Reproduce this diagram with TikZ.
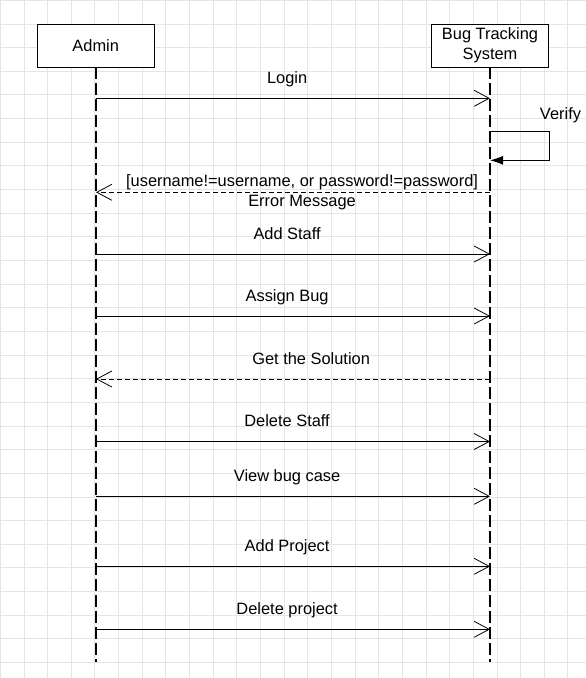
\documentclass[tikz,border=0pt]{standalone}
\usepackage{fontspec}
\setmainfont{Liberation Sans}
\usetikzlibrary{arrows.meta}
\tikzstyle{actor box}=[
        draw = black,
        line width = 1pt,
        fill = white,
        minimum width = 117pt,
        minimum height = 43pt,
        align = center,
        font = \fontsize{16.4}{20}\selectfont
    ]
\tikzstyle{life line}=[
        line width = 1.1pt,
        dash pattern = on 12pt off 4pt
    ]
\tikzstyle{call}=[
        line width = 1pt,
        -{Straight Barb[length=15pt,width=16pt,line width=0.8pt]}
    ]
\tikzstyle{reply}=[
        call,
        dash pattern = on 5pt off 3pt
    ]
\tikzstyle{self call}=[
        line width = 1pt,
        -{Latex[length=13pt,width=9pt]}
    ]
\tikzstyle{msg}=[
        inner sep = 0pt,
        anchor = base,
        font = \fontsize{16.4}{19}\selectfont
    ]

\begin{document}
\begin{tikzpicture}[x=1pt, y=-1pt]
        \useasboundingbox (0,0) rectangle (586,678);
        \foreach \k in {-1,...,23}
            \draw[gray!20, line width=1pt] ({24+\k*23.65},0) -- ({24+\k*23.65},678);
        \foreach \k in {-1,...,27}
            \draw[gray!20, line width=1pt] (0,{24+\k*23.65}) -- (586,{24+\k*23.65});

        \node[actor box] (admin) at (95.7,45.7) {Admin};
        \node[actor box] (bts) at (490,45.7) {Bug Tracking\\System};
        \coordinate (adminEnd) at (96,662);
        \coordinate (btsEnd) at (490,662);
        \draw[life line] (96,67.2) -- (adminEnd);
        \draw[life line] (490,67.2) -- (btsEnd);

        \coordinate (a1) at (96,98.3);   \coordinate (b1) at (490,98.3);
        \coordinate (vs) at (490,131.7); \coordinate (ve) at (490,160.3);
        \coordinate (a2) at (96,192.3);  \coordinate (b2) at (490,192.3);
        \coordinate (a3) at (96,254);    \coordinate (b3) at (490,254);
        \coordinate (a4) at (96,316);    \coordinate (b4) at (490,316);
        \coordinate (a5) at (96,379);    \coordinate (b5) at (490,379);
        \coordinate (a6) at (96,441.5);  \coordinate (b6) at (490,441.5);
        \coordinate (a7) at (96,496.3);  \coordinate (b7) at (490,496.3);
        \coordinate (a8) at (96,566.3);  \coordinate (b8) at (490,566.3);
        \coordinate (a9) at (96,629.3);  \coordinate (b9) at (490,629.3);

        \draw[call] (a1) -- (b1) node [msg, pos=0.485, yshift=15pt] {Login};
        \draw[self call] (vs) -- ++(59,0) |- (ve);
        \node[msg] (verify) at (560.5,119) {Verify};
        \draw[reply] (b2) -- (a2)
            node [msg, pos=0.477, yshift=6pt] {[username!=username, or password!=password]}
            node [msg, pos=0.477, yshift=-14pt] {Error Message};
        \draw[call] (a3) -- (b3) node [msg, pos=0.485, yshift=15pt] {Add Staff};
        \draw[call] (a4) -- (b4) node [msg, pos=0.485, yshift=15pt] {Assign Bug};
        \draw[reply] (b5) -- (a5) node [msg, pos=0.454, yshift=15pt] {Get the Solution};
        \draw[call] (a6) -- (b6) node [msg, pos=0.485, yshift=15pt] {Delete Staff};
        \draw[call] (a7) -- (b7) node [msg, pos=0.485, yshift=15pt] {View bug case};
        \draw[call] (a8) -- (b8) node [msg, pos=0.485, yshift=15pt] {Add Project};
        \draw[call] (a9) -- (b9) node [msg, pos=0.485, yshift=15pt] {Delete project};
    \end{tikzpicture}
\end{document}
